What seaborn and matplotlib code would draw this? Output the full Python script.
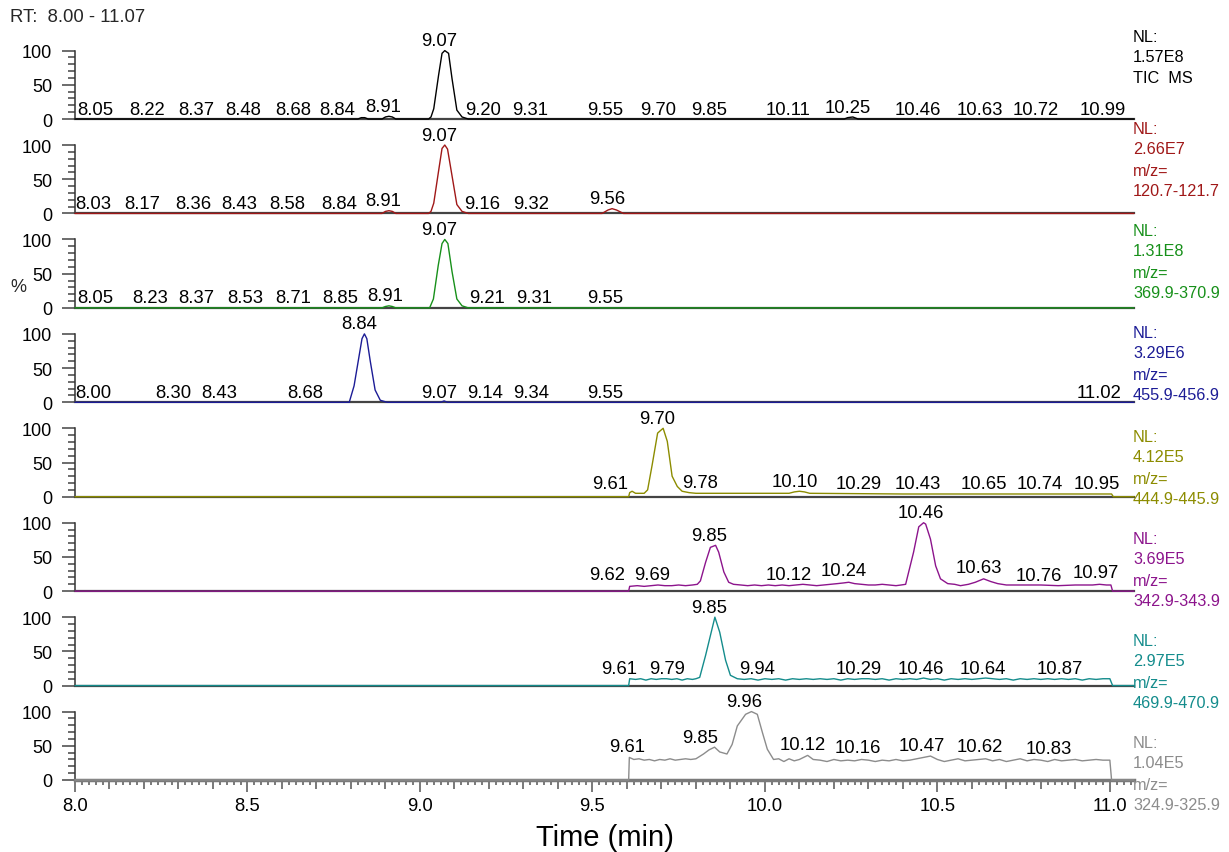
import matplotlib
matplotlib.use("Agg")
import matplotlib.pyplot as plt
import matplotlib.ticker as mticker
import pandas as pd
import seaborn as sns

sns.set_style("ticks")
plt.rcParams["font.family"] = ["Liberation Sans", "DejaVu Sans"]

W, H = 1229, 853

# traces: (time in min, relative abundance %)
tic = [(8.00, 0), (8.82, 0), (8.83, 2), (8.84, 2), (8.85, 0), (8.89, 0), (8.90, 3), (8.91, 4), (8.92, 3),
       (8.93, 0), (9.025, 0), (9.032, 3), (9.04, 15), (9.054, 64), (9.064, 96), (9.072, 100), (9.083, 96),
       (9.093, 59), (9.107, 13), (9.122, 3), (9.14, 0), (10.23, 0), (10.24, 2), (10.255, 3), (10.27, 0),
       (11.07, 0)]
mz121 = [(8.00, 0), (8.89, 0), (8.90, 3), (8.91, 4), (8.92, 3), (8.93, 0), (9.025, 0), (9.032, 3), (9.04, 15),
         (9.054, 62), (9.064, 95), (9.072, 100), (9.08, 94), (9.093, 55), (9.107, 13), (9.122, 3), (9.14, 0),
         (9.528, 0), (9.545, 5), (9.557, 7), (9.57, 5), (9.59, 0), (11.07, 0)]
mz370 = [(8.00, 0), (8.89, 0), (8.90, 2), (8.91, 3), (8.92, 2), (8.93, 0), (9.028, 0), (9.039, 13), (9.053, 62),
         (9.064, 94), (9.072, 100), (9.081, 94), (9.093, 53), (9.107, 13), (9.122, 3), (9.14, 0), (11.07, 0)]
mz456 = [(8.00, 0), (8.795, 0), (8.809, 24), (8.822, 63), (8.832, 93), (8.839, 100), (8.846, 93), (8.856, 60),
         (8.87, 18), (8.885, 3), (8.905, 0), (9.06, 0), (9.07, 2), (9.08, 0), (11.07, 0)]
mz445 = [(8.00, 0), (9.605, 0), (9.608, 6), (9.615, 8), (9.625, 5), (9.65, 5), (9.66, 10), (9.673, 46),
         (9.689, 93), (9.698, 97), (9.705, 100), (9.717, 81), (9.731, 30), (9.746, 15), (9.76, 8), (9.78, 6),
         (9.80, 5), (10.07, 5), (10.085, 7), (10.10, 8), (10.115, 7), (10.13, 5), (10.40, 4), (10.95, 4),
         (11.005, 4), (11.01, 0), (11.07, 0)]
mz343 = [(8.00, 0), (9.605, 0), (9.608, 7), (9.63, 8), (9.65, 7), (9.67, 8), (9.69, 9), (9.71, 8), (9.73, 8),
         (9.75, 9), (9.77, 8), (9.79, 9), (9.804, 10), (9.813, 15), (9.828, 42), (9.842, 64), (9.857, 67),
         (9.866, 57), (9.881, 28), (9.895, 13), (9.909, 10), (9.93, 9), (9.95, 8), (9.97, 9), (9.99, 8),
         (10.01, 9), (10.03, 8), (10.05, 9), (10.07, 8), (10.09, 9), (10.11, 10), (10.13, 9), (10.15, 8),
         (10.17, 9), (10.19, 10), (10.21, 11), (10.228, 12), (10.243, 13), (10.26, 11), (10.28, 10), (10.30, 9),
         (10.32, 9), (10.34, 10), (10.36, 9), (10.38, 8), (10.395, 9), (10.408, 10), (10.431, 57), (10.446, 94),
         (10.46, 100), (10.466, 98), (10.48, 76), (10.495, 37), (10.509, 18), (10.53, 11), (10.55, 10),
         (10.567, 8), (10.59, 10), (10.61, 13), (10.634, 18), (10.655, 14), (10.675, 11), (10.70, 9),
         (10.75, 9), (10.80, 9), (10.85, 8), (10.90, 9), (10.95, 9), (10.97, 10), (10.99, 9), (11.003, 9),
         (11.008, 0), (11.07, 0)]
mz470 = [(8.00, 0), (9.605, 0), (9.608, 10), (9.625, 9), (9.64, 10), (9.655, 8), (9.67, 10), (9.685, 9),
         (9.70, 10), (9.715, 10), (9.73, 9), (9.745, 10), (9.76, 8), (9.775, 10), (9.79, 9), (9.80, 10),
         (9.811, 12), (9.828, 44), (9.855, 100), (9.869, 78), (9.886, 37), (9.90, 15), (9.92, 10), (9.94, 9),
         (9.96, 10), (9.98, 8), (10.00, 10), (10.02, 9), (10.04, 10), (10.06, 8), (10.08, 10), (10.10, 9),
         (10.12, 10), (10.14, 9), (10.16, 10), (10.18, 9), (10.20, 10), (10.22, 8), (10.24, 10), (10.26, 9),
         (10.28, 10), (10.30, 10), (10.32, 9), (10.34, 10), (10.36, 8), (10.38, 10), (10.40, 9), (10.42, 10),
         (10.44, 9), (10.46, 11), (10.48, 9), (10.50, 10), (10.52, 8), (10.54, 10), (10.56, 9), (10.58, 10),
         (10.60, 9), (10.62, 10), (10.64, 11), (10.66, 10), (10.68, 9), (10.70, 10), (10.72, 8), (10.74, 10),
         (10.76, 9), (10.78, 10), (10.80, 9), (10.82, 10), (10.84, 9), (10.86, 10), (10.88, 9), (10.90, 10),
         (10.92, 8), (10.94, 10), (10.96, 9), (10.98, 10), (11.00, 10), (11.008, 0), (11.07, 0)]
mz325 = [(8.00, 0), (9.605, 0), (9.607, 33), (9.62, 30), (9.635, 31), (9.65, 29), (9.665, 30), (9.68, 28),
         (9.695, 30), (9.71, 29), (9.725, 31), (9.74, 29), (9.755, 30), (9.77, 31), (9.785, 30), (9.80, 31),
         (9.822, 38), (9.838, 44), (9.854, 48), (9.869, 41), (9.89, 38), (9.905, 52), (9.92, 79), (9.944, 96),
         (9.961, 100), (9.978, 96), (9.993, 69), (10.007, 45), (10.025, 30), (10.04, 31), (10.055, 27),
         (10.07, 31), (10.085, 28), (10.10, 30), (10.124, 36), (10.14, 30), (10.16, 29), (10.18, 27),
         (10.20, 30), (10.22, 28), (10.24, 29), (10.26, 28), (10.28, 30), (10.30, 29), (10.32, 27), (10.34, 29),
         (10.36, 28), (10.38, 30), (10.40, 28), (10.42, 29), (10.44, 31), (10.46, 33), (10.48, 35), (10.50, 30),
         (10.52, 27), (10.54, 29), (10.56, 31), (10.58, 28), (10.60, 29), (10.62, 30), (10.64, 31), (10.66, 28),
         (10.68, 30), (10.70, 27), (10.72, 29), (10.74, 31), (10.76, 28), (10.78, 30), (10.80, 29), (10.82, 27),
         (10.84, 30), (10.86, 28), (10.88, 29), (10.90, 30), (10.92, 28), (10.94, 29), (10.96, 30), (10.98, 29),
         (11.00, 29), (11.005, 0), (11.07, 0)]

# peak labels: (text, drawn at time, level of trace under label)
lab_tic = [("8.05", 8.058, 0), ("8.22", 8.209, 0), ("8.37", 8.351, 0), ("8.48", 8.487, 0), ("8.68", 8.632, 0),
           ("8.84", 8.760, 0), ("8.91", 8.894, 4), ("9.07", 9.056, 100), ("9.20", 9.184, 0), ("9.31", 9.32, 0),
           ("9.55", 9.538, 0), ("9.70", 9.691, 0), ("9.85", 9.839, 0), ("10.11", 10.066, 0), ("10.25", 10.240, 2),
           ("10.46", 10.443, 0), ("10.63", 10.623, 0), ("10.72", 10.785, 0), ("10.99", 10.979, 0)]
lab_121 = [("8.03", 8.052, 0), ("8.17", 8.194, 0), ("8.36", 8.343, 0), ("8.43", 8.476, 0), ("8.58", 8.615, 0),
           ("8.84", 8.766, 0), ("8.91", 8.894, 4), ("9.07", 9.056, 100), ("9.16", 9.181, 0), ("9.32", 9.323, 0),
           ("9.56", 9.543, 7)]
lab_370 = [("8.05", 8.058, 0), ("8.23", 8.218, 0), ("8.37", 8.351, 0), ("8.53", 8.493, 0), ("8.71", 8.632, 0),
           ("8.85", 8.769, 0), ("8.91", 8.899, 3), ("9.07", 9.056, 100), ("9.21", 9.195, 0), ("9.31", 9.332, 0),
           ("9.55", 9.538, 0)]
lab_456 = [("8.00", 8.052, 0), ("8.30", 8.285, 0), ("8.43", 8.419, 0), ("8.68", 8.667, 0), ("8.84", 8.824, 100),
           ("9.07", 9.056, 0), ("9.14", 9.19, 0), ("9.34", 9.323, 0), ("9.55", 9.538, 0), ("11.02", 10.968, 0)]
lab_445 = [("9.61", 9.552, 5), ("9.70", 9.688, 100), ("9.78", 9.813, 6), ("10.10", 10.086, 8), ("10.29", 10.272, 5),
           ("10.43", 10.443, 5), ("10.65", 10.634, 5), ("10.74", 10.797, 5), ("10.95", 10.962, 5)]
lab_343 = [("9.62", 9.543, 10), ("9.69", 9.674, 10), ("9.85", 9.837, 67), ("10.12", 10.068, 10),
           ("10.24", 10.228, 15), ("10.46", 10.451, 100), ("10.63", 10.62, 20), ("10.76", 10.794, 8),
           ("10.97", 10.959, 12)]
lab_470 = [("9.61", 9.578, 11), ("9.79", 9.715, 11), ("9.85", 9.839, 100), ("9.94", 9.978, 11),
           ("10.29", 10.272, 11), ("10.46", 10.451, 11), ("10.64", 10.631, 11), ("10.87", 10.855, 10)]
lab_325 = [("9.61", 9.601, 35), ("9.85", 9.813, 47), ("9.96", 9.941, 100), ("10.12", 10.109, 37),
           ("10.16", 10.269, 33), ("10.47", 10.454, 36), ("10.62", 10.623, 34), ("10.83", 10.823, 32)]

traces = [tic, mz121, mz370, mz456, mz445, mz343, mz470, mz325]
labels = [lab_tic, lab_121, lab_370, lab_456, lab_445, lab_343, lab_470, lab_325]
info = [["NL:", "1.57E8", "TIC  MS"],
        ["NL:", "2.66E7", "m/z=", "120.7-121.7"],
        ["NL:", "1.31E8", "m/z=", "369.9-370.9"],
        ["NL:", "3.29E6", "m/z=", "455.9-456.9"],
        ["NL:", "4.12E5", "m/z=", "444.9-445.9"],
        ["NL:", "3.69E5", "m/z=", "342.9-343.9"],
        ["NL:", "2.97E5", "m/z=", "469.9-470.9"],
        ["NL:", "1.04E5", "m/z=", "324.9-325.9"]]
colors = ["#000000", "#a01818", "#17901a", "#1c1c96", "#8c8c00", "#8c148c", "#148c8c", "#8c8c8c"]
info_y = [37, 130, 232, 334, 438, 540, 642, 744]
line_step = [0, 20, 41.5, 61.5]

fig, axes = plt.subplots(8, 1, figsize=(W / 100, H / 100), dpi=100, sharex=True)
fig.subplots_adjust(left=75 / W, right=1134 / W, bottom=1 - 781 / H, top=1 - 25.6 / H, hspace=0)

for k, ax in enumerate(axes):
    df = pd.DataFrame(traces[k], columns=["time", "abund"])
    sns.lineplot(data=df, x="time", y="abund", ax=ax, color=colors[k], linewidth=1.0,
                 estimator=None, sort=False, clip_on=False, zorder=4)
    ax.set_ylim(0, 138)
    ax.set_xlim(8.0, 11.07)
    ax.set_xlabel("")
    ax.set_ylabel("")
    ax.spines["top"].set_visible(False)
    ax.spines["right"].set_visible(False)
    ax.spines["left"].set_bounds(0, 100)
    ax.spines["left"].set_color("#333333")
    ax.spines["left"].set_linewidth(1.1)
    ax.spines["bottom"].set_color("#444444")
    ax.spines["bottom"].set_linewidth(1.6)
    ax.set_yticks([0, 50, 100])
    ax.yaxis.set_minor_locator(mticker.FixedLocator([10, 20, 30, 40, 60, 70, 80, 90]))
    ax.tick_params(axis="y", which="major", length=9.4, width=1.1, color="#444444", pad=7,
                   labelsize=13, labelcolor="black")
    ax.tick_params(axis="y", which="minor", length=5, width=1.1, color="#444444")
    ax.patch.set_alpha(0)

    for txt, x, lvl in labels[k]:
        ax.annotate(txt, xy=(x, lvl), xytext=(0, 10), textcoords="offset pixels",
                    ha="center", va="center", fontsize=13.3, color="black", zorder=5)

    for j, line in enumerate(info[k]):
        fig.text(1133 / W, 1 - (info_y[k] + line_step[j]) / H, line, color=colors[k],
                 fontsize=11.7, ha="left", va="center")

    if k < 7:
        ax.tick_params(axis="x", which="both", bottom=False, labelbottom=False)

bax = axes[-1]
bax.spines["bottom"].set_color("#7a7a7a")
bax.spines["bottom"].set_linewidth(2.5)
bax.xaxis.set_major_locator(mticker.MultipleLocator(0.1))
bax.xaxis.set_minor_locator(mticker.MultipleLocator(0.02))
bax.xaxis.set_major_formatter(mticker.FuncFormatter(
    lambda v, p: f"{v:.1f}" if abs(v * 2 - round(v * 2)) < 1e-6 else ""))
bax.tick_params(axis="x", which="major", length=6.5, width=1.1, color="#555555", labelsize=13.3,
                labelcolor="black", pad=5.5)
bax.tick_params(axis="x", which="minor", length=3.6, width=1.1, color="#555555")
bax.set_xlabel("Time (min)", fontsize=21, labelpad=7, color="black")

fig.canvas.draw()
for tick in bax.xaxis.get_major_ticks():
    v = tick.get_loc()
    if abs(v * 2 - round(v * 2)) < 1e-6:
        tick.tick1line.set_markersize(8.8)

fig.text(10 / W, 1 - 18 / H, "RT:  8.00 - 11.07", fontsize=13.3, ha="left", va="center")
fig.text(18 / W, 1 - 288 / H, "%", fontsize=13, ha="center", va="center")

fig.savefig("out.png", dpi=100)
